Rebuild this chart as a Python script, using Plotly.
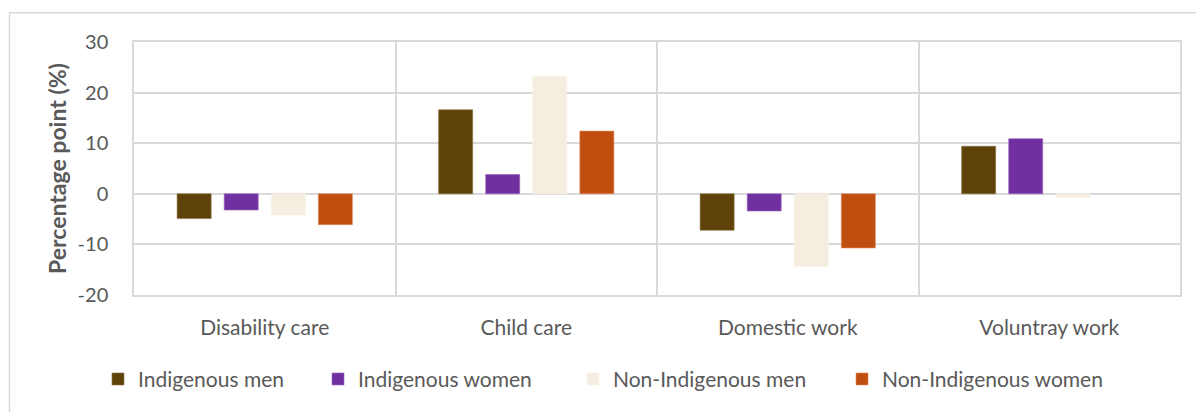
import plotly.graph_objects as go

# Change in participation by activity (percentage points)
categories = ["Disability care", "Child care", "Domestic work", "Voluntray work"]
series_names = ["Indigenous men", "Indigenous women", "Non-Indigenous men", "Non-Indigenous women"]
indigenous_men = [-4.9, 16.6, -7.2, 9.4]
indigenous_women = [-3.2, 3.8, -3.4, 10.9]
non_indigenous_men = [-4.2, 23.2, -14.4, -0.7]
non_indigenous_women = [-6.1, 12.4, -10.7, None]
y_ticks = [-20, -10, 0, 10, 20, 30]

series_values = [indigenous_men, indigenous_women, non_indigenous_men, non_indigenous_women]
colors = ["#5E420A", "#7030A0", "#F5EDDF", "#C04F0F"]
outlines = ["#8A7040", "#9A66C0", "#F8F1E6", "#E08A60"]

FONT = "Lato, 'Open Sans', sans-serif"
GRID = "#D9D9D9"
TEXT = "#595959"

# plot area in pixels
L, R, T, B, W, H = 134, 16, 42, 115, 1196, 412
PW, PH = W - L - R, H - T - B

def px_x(x):
    return (x - L) / PW

def px_y(y):
    return (H - B - y) / PH

# each legend entry gets its own legend box so spacing can be set per item
legend_left_px = [98, 318, 573, 842]
legend_ids = ["legend", "legend2", "legend3", "legend4"]

fig = go.Figure()
for name, vals, col, oc, lid in zip(series_names, series_values, colors, outlines, legend_ids):
    fig.add_trace(go.Bar(
        name=name, x=categories, y=vals, legend=lid,
        marker=dict(color=col, line=dict(color=oc, width=0.6)),
    ))

legend_style = dict(
    orientation="h", xanchor="left", y=px_y(382), yanchor="middle",
    font=dict(size=21, color=TEXT), itemwidth=30, bgcolor="rgba(0,0,0,0)",
)
legends = {
    lid: dict(legend_style, x=px_x(lx))
    for lid, lx in zip(legend_ids, legend_left_px)
}

fig.update_layout(
    width=W, height=H,
    margin=dict(l=L, r=R, t=T, b=B),
    paper_bgcolor="white", plot_bgcolor="white",
    barmode="group", bargap=0.28, bargroupgap=0.277,
    font=dict(family=FONT, color=TEXT, size=20),
    showlegend=True,
    **legends,
    xaxis=dict(
        type="category", tickson="boundaries", showgrid=True, gridcolor=GRID, gridwidth=1.5,
        showline=True, linecolor=GRID, linewidth=1.5, mirror=True,
        ticks="", tickfont=dict(size=21, color=TEXT), ticklabelstandoff=13,
    ),
    yaxis=dict(
        range=[-20, 30], tickvals=y_ticks, ticktext=[str(v) for v in y_ticks],
        showgrid=True, gridcolor=GRID, gridwidth=1.5,
        zeroline=True, zerolinecolor=GRID, zerolinewidth=1.5,
        showline=True, linecolor=GRID, linewidth=1.5, mirror=True,
        ticks="", tickfont=dict(size=20, color=TEXT), ticklabelstandoff=20,
        title=dict(text="<b>Percentage point (%)</b>", font=dict(size=23, color=TEXT), standoff=5),
    ),
    shapes=[dict(
        type="rect", xref="paper", yref="paper",
        x0=px_x(9.5), x1=px_x(1210),
        y0=px_y(430), y1=px_y(12.5),
        line=dict(color=GRID, width=1.5), fillcolor="rgba(0,0,0,0)", layer="below",
    )],
)

fig.write_html("out.html")
